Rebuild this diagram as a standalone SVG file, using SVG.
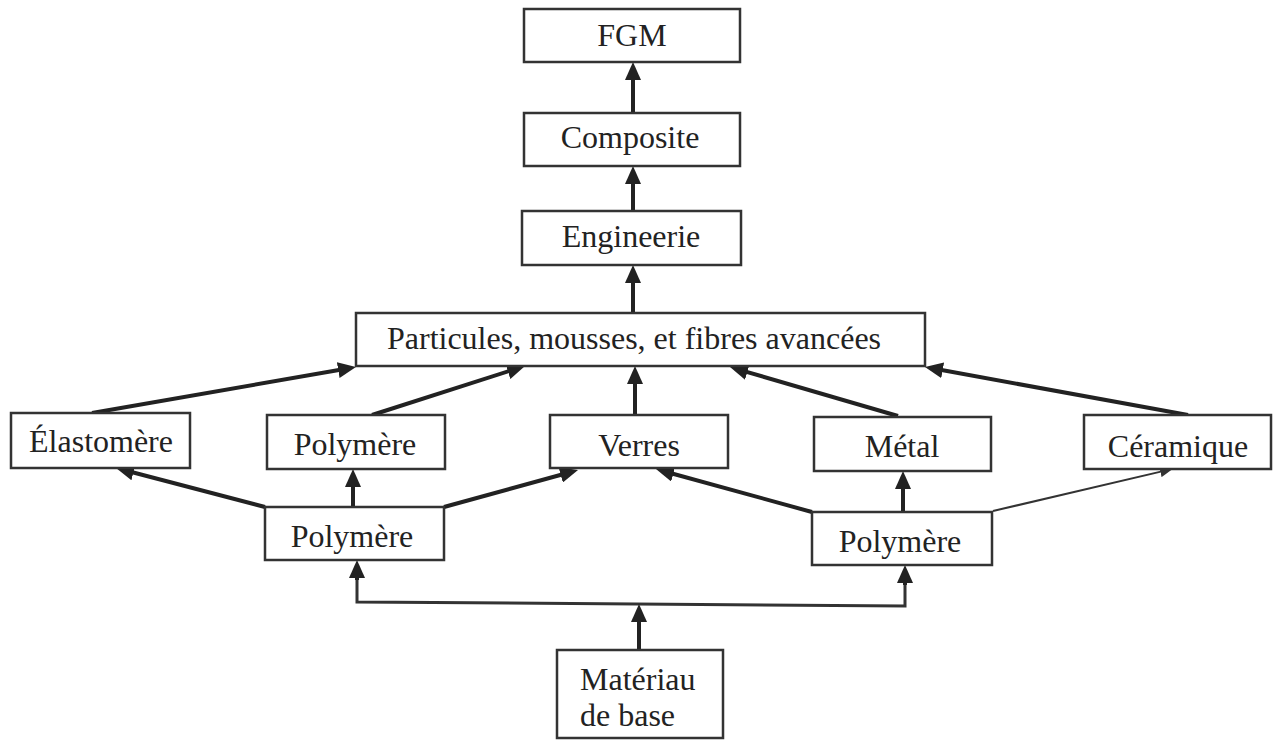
<svg xmlns="http://www.w3.org/2000/svg" width="1274" height="740" viewBox="0 0 1274 740">
<style>
.box{fill:#fff;stroke:#333;stroke-width:2.5}
.t{font-family:"Liberation Serif","Times New Roman",serif;font-size:32px;fill:#222;text-anchor:middle}
.ts{font-family:"Liberation Serif","Times New Roman",serif;font-size:32px;fill:#222;text-anchor:start}
.a{stroke:#222;stroke-width:4;fill:none;marker-end:url(#ah)}
.thin{stroke:#333;stroke-width:2;fill:none;marker-end:url(#ahs)}
.bus{stroke:#333;stroke-width:3;fill:none}
</style>
<defs>
<marker id="ah" viewBox="0 0 18 16" refX="8" refY="8" markerWidth="18" markerHeight="16" markerUnits="userSpaceOnUse" orient="auto">
<path d="M0,0 L18,8 L0,16 z" fill="#222"/>
</marker>
<marker id="ahs" viewBox="0 0 13 11" refX="6" refY="5.5" markerWidth="13" markerHeight="11" markerUnits="userSpaceOnUse" orient="auto">
<path d="M0,0 L13,5.5 L0,11 z" fill="#333"/>
</marker>
</defs>
<rect width="1274" height="740" fill="#fff"/>
<g id="connectors">
<line class="a" x1="633" y1="113" x2="633" y2="72"/>
<line class="a" x1="633" y1="211" x2="633" y2="176"/>
<line class="a" x1="633" y1="313" x2="633" y2="275"/>
<line class="a" x1="92" y1="413" x2="346.1" y2="368.7"/>
<line class="a" x1="372" y1="415" x2="515.5" y2="369"/>
<line class="a" x1="635" y1="415" x2="635" y2="376"/>
<line class="a" x1="898" y1="416" x2="739.6" y2="369.8"/>
<line class="a" x1="1188" y1="415" x2="934.8" y2="368.8"/>
<line class="a" x1="265" y1="507" x2="125.7" y2="470.5"/>
<line class="a" x1="353" y1="507" x2="353" y2="479"/>
<line class="a" x1="444" y1="507" x2="568.4" y2="472.7"/>
<line class="a" x1="812" y1="512" x2="665.6" y2="471.7"/>
<line class="a" x1="903" y1="512" x2="903" y2="481"/>
<line class="thin" x1="993" y1="511" x2="1166.2" y2="470.4"/>
<path class="bus" d="M357,578 L357,602 L905,606 L905,583"/>
<line class="a" x1="357" y1="580" x2="357" y2="570"/>
<line class="a" x1="905" y1="585" x2="905" y2="575"/>
<line class="a" x1="639" y1="650" x2="639" y2="614"/>
</g>
<g id="fgm"><rect class="box" x="524" y="9" width="216" height="53"/><text class="t" x="632" y="46">FGM</text></g>
<g id="composite"><rect class="box" x="524" y="113" width="216" height="53"/><text class="t" x="630" y="148">Composite</text></g>
<g id="engineerie"><rect class="box" x="522" y="211" width="219" height="54"/><text class="t" x="631" y="247">Engineerie</text></g>
<g id="particules"><rect class="box" x="356" y="313" width="569" height="53"/><text class="t" x="634" y="349">Particules, mousses, et fibres avancées</text></g>
<g id="elastomere"><rect class="box" x="11" y="413" width="179" height="55"/><text class="t" x="101" y="452">Élastomère</text></g>
<g id="polymere-top"><rect class="box" x="267" y="415" width="178" height="54"/><text class="t" x="355" y="455">Polymère</text></g>
<g id="verres"><rect class="box" x="550" y="415" width="178" height="53"/><text class="t" x="639" y="456">Verres</text></g>
<g id="metal"><rect class="box" x="814" y="417" width="177" height="54"/><text class="t" x="902" y="457">Métal</text></g>
<g id="ceramique"><rect class="box" x="1084" y="415" width="187" height="54"/><text class="t" x="1178" y="457">Céramique</text></g>
<g id="polymere-left"><rect class="box" x="265" y="507" width="179" height="53"/><text class="t" x="352" y="547">Polymère</text></g>
<g id="polymere-right"><rect class="box" x="812" y="512" width="180" height="53"/><text class="t" x="900" y="552">Polymère</text></g>
<g id="materiau"><rect class="box" x="557" y="650" width="166" height="88"/><text class="ts" x="580" y="690">Matériau</text><text class="ts" x="580" y="726">de base</text></g>
</svg>
